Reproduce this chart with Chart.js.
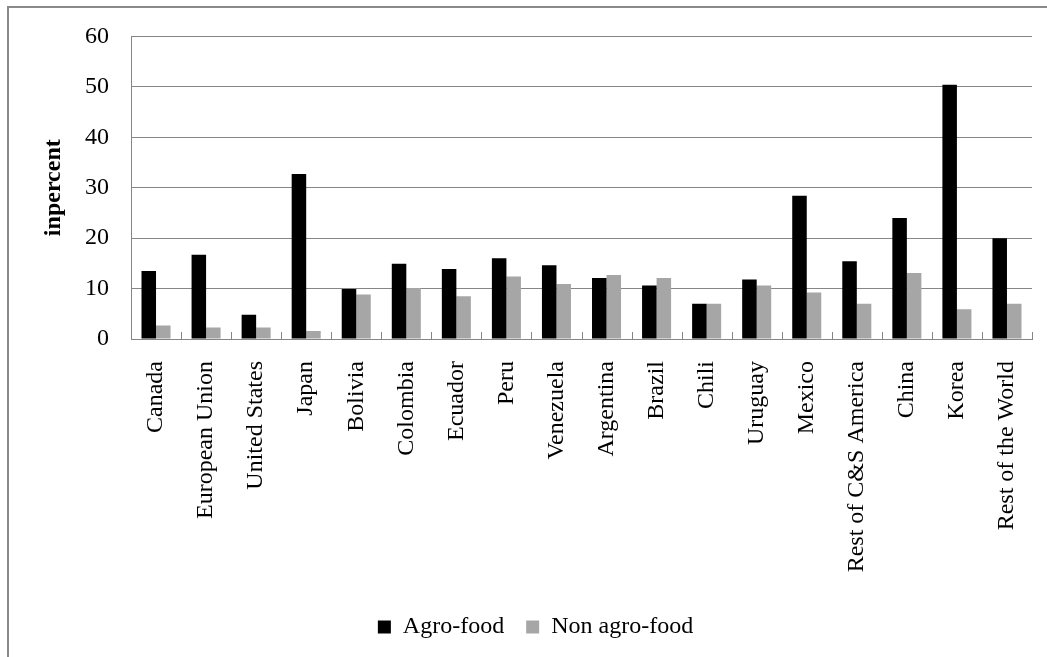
<!DOCTYPE html>
<html>
<head>
<meta charset="utf-8">
<script src="https://cdn.jsdelivr.net/npm/chart.js@4.4.0/dist/chart.umd.min.js"></script>
<style>
  html, body { margin: 0; padding: 0; background: #fff; }
  #wrap { width: 1047px; height: 657px; position: relative; }
</style>
</head>
<body>
<div id="wrap"><canvas id="c" width="1047" height="657"></canvas></div>
<script>
// Regions (x-axis categories)
const regions = [
  'Canada', 'European Union', 'United States', 'Japan', 'Bolivia', 'Colombia',
  'Ecuador', 'Peru', 'Venezuela', 'Argentina', 'Brazil', 'Chili', 'Uruguay',
  'Mexico', 'Rest of C&S America', 'China', 'Korea', 'Rest of the World'
];

// Shares in percent
const agroFood = [13.5, 16.7, 4.8, 32.7, 9.9, 14.9, 13.9, 16.0, 14.6, 12.1, 10.6, 7.0, 11.8, 28.4, 15.4, 24.0, 50.4, 20.0];
const nonAgroFood = [2.7, 2.3, 2.3, 1.6, 8.8, 10.1, 8.5, 12.4, 10.9, 12.7, 12.1, 7.0, 10.6, 9.2, 7.0, 13.1, 5.9, 7.0];

// Value axis
const yMin = 0, yMax = 60, yStep = 10;
const yTitle = 'inpercent';

const SERIF = '"Liberation Serif", "Times New Roman", serif';
const FONT_SIZE = 24;
const GRID = '#868686';

// Slightly wider letter spacing for all canvas text
const textSpacing = {
  id: 'textSpacing',
  beforeInit(chart) { chart.ctx.letterSpacing = '0.5px'; }
};

// Outer frame (top and left edges) plus small inward boundary ticks on the category axis
const decorations = {
  id: 'decorations',
  beforeDraw(chart) {
    const ctx = chart.ctx;
    ctx.save();
    ctx.strokeStyle = '#8a8a8a';
    ctx.lineWidth = 2;
    ctx.beginPath();
    ctx.moveTo(8, 657);
    ctx.lineTo(8, 7);
    ctx.lineTo(1047, 7);
    ctx.stroke();
    ctx.restore();
  },
  afterDatasetsDraw(chart) {
    const x = chart.scales.x;
    const area = chart.chartArea;
    const ctx = chart.ctx;
    const n = x.ticks.length;
    const half = (x.getPixelForTick(1) - x.getPixelForTick(0)) / 2;
    ctx.save();
    ctx.strokeStyle = GRID;
    ctx.lineWidth = 1;
    ctx.beginPath();
    for (let i = 0; i <= n; i++) {
      const px = Math.round(x.getPixelForTick(Math.min(i, n - 1)) + (i < n ? -half : half)) + 0.5;
      ctx.moveTo(px, area.bottom);
      ctx.lineTo(px, area.bottom - 7);
    }
    ctx.stroke();
    ctx.restore();
  }
};

new Chart(document.getElementById('c'), {
  type: 'bar',
  data: {
    labels: regions,
    datasets: [
      { label: 'Agro-food', data: agroFood, backgroundColor: '#000000', borderWidth: 0 },
      { label: 'Non agro-food', data: nonAgroFood, backgroundColor: '#a6a6a6', borderWidth: 0 }
    ]
  },
  options: {
    responsive: false,
    animation: false,
    devicePixelRatio: 1,
    categoryPercentage: 0.58,
    barPercentage: 1.0,
    layout: { padding: { top: 33, right: 15, left: 39, bottom: 8 } },
    plugins: {
      tooltip: { enabled: false },
      legend: {
        position: 'bottom',
        labels: {
          boxWidth: 13,
          boxHeight: 13,
          padding: 22,
          color: '#000',
          font: { family: SERIF, size: FONT_SIZE }
        }
      }
    },
    scales: {
      x: {
        grid: { display: false, drawTicks: false },
        border: { display: true, color: GRID, width: 1 },
        ticks: {
          color: '#000',
          font: { family: SERIF, size: FONT_SIZE },
          minRotation: 90,
          maxRotation: 90,
          autoSkip: false,
          padding: 22
        },
        afterFit(scale) {
          scale.height = 254;
          scale.paddingLeft = 0;
          scale.paddingRight = 0;
        }
      },
      y: {
        min: yMin,
        max: yMax,
        grid: { color: GRID, lineWidth: 1, drawTicks: false },
        border: { display: true, color: GRID, width: 1 },
        ticks: {
          stepSize: yStep,
          color: '#000',
          font: { family: SERIF, size: FONT_SIZE },
          padding: 22
        },
        title: {
          display: true,
          text: yTitle,
          color: '#000',
          font: { family: SERIF, size: FONT_SIZE, weight: 'bold' },
          padding: 0
        },
        afterFit(scale) { scale.width = 92; }
      }
    }
  },
  plugins: [textSpacing, decorations]
});
</script>
</body>
</html>
